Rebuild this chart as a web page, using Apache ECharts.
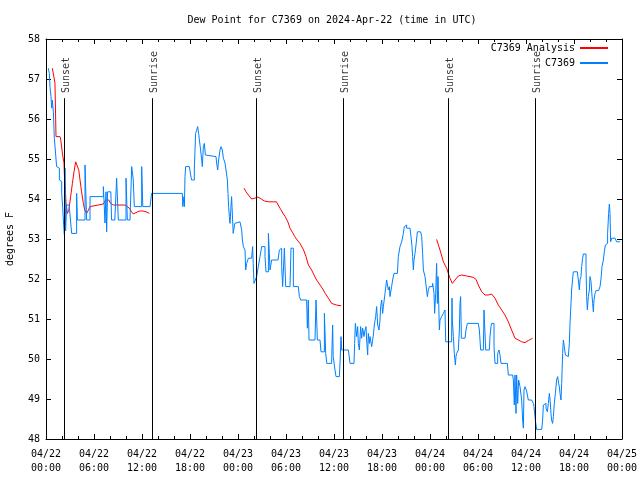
<!DOCTYPE html>
<html><head><meta charset="utf-8">
<script src="https://cdn.jsdelivr.net/npm/echarts@6/dist/echarts.min.js"></script>
<style>html,body{margin:0;padding:0;background:#fff}#c{width:640px;height:480px}</style>
</head><body><div id="c"></div>
<script>
// hours since 2024-04-22 00:00 UTC, dew point (F)
const stationName = 'C7369';
const analysisName = 'C7369 Analysis';
const xTickLabels = ['04/22\n00:00','04/22\n06:00','04/22\n12:00','04/22\n18:00','04/23\n00:00','04/23\n06:00','04/23\n12:00','04/23\n18:00','04/24\n00:00','04/24\n06:00','04/24\n12:00','04/24\n18:00','04/25\n00:00'];
const sunsetHours = [2.29, 26.29, 50.29];
const sunriseHours = [13.29, 37.17, 61.17];
const sunLabels = ['Sunset','Sunrise'];

const blueObs = [[0.29,57.27],[0.42,57.14],[0.5,56.81],[0.625,56.56],[0.71,56.27],[0.79,56.475],[0.92,56.18],[1.04,55.52],[1.25,55.475],[1.33,54.81],[1.54,54.77],[1.67,54.475],[1.83,54.44],[1.96,54.14],[2.08,53.81],[2.17,53.475],[2.25,53.225],[2.3,53.1],[2.375,54.77],[2.45,53.2],[2.58,53.85],[2.9,53.85],[3.0,53.6],[3.21,53.14],[3.5,53.14],[3.83,54.14],[3.92,53.475],[4.04,53.475],[4.5,53.475],[4.875,54.85],[5.08,53.475],[5.3,53.475],[5.5,54.06],[6.0,54.06],[6.5,54.06],[7.17,54.31],[7.375,53.4],[7.5,54.18],[7.58,53.18],[7.7,54.18],[7.79,54.18],[8.1,54.18],[8.2,53.475],[8.6,53.475],[8.83,54.52],[9.04,53.475],[9.5,53.475],[10.0,54.52],[10.17,53.475],[10.5,53.475],[10.71,54.81],[10.9,54.5],[11.04,53.81],[11.5,53.81],[11.96,54.81],[12.1,53.81],[12.5,53.81],[13.0,53.81],[13.2,54.14],[14,54.14],[15,54.14],[16,54.14],[17.04,54.14],[17.1,53.81],[17.25,54.06],[17.3,53.81],[17.375,54.56],[17.46,54.81],[17.92,54.81],[18.08,54.6],[18.2,54.475],[18.4,54.475],[18.54,54.725],[18.625,55.225],[18.7,55.64],[18.83,55.72],[18.96,55.81],[19.08,55.64],[19.17,55.475],[19.33,55.225],[19.46,54.975],[19.54,54.81],[19.67,55.31],[19.79,55.39],[19.92,55.1],[20.08,55.06],[21.25,55.06],[21.33,54.9],[21.46,54.725],[21.58,54.975],[21.75,55.225],[21.875,55.31],[22.04,55.225],[22.17,55.02],[22.375,54.9],[22.5,54.725],[22.67,54.475],[22.75,54.14],[22.83,53.81],[22.92,53.56],[23.0,53.39],[23.2,54.06],[23.4,53.14],[23.6,53.39],[23.8,53.43],[24.25,53.43],[24.46,53.225],[24.55,52.975],[24.67,52.81],[24.875,52.725],[24.96,52.225],[25.08,52.39],[25.3,52.52],[25.7,52.52],[25.83,52.81],[25.9,52.39],[26.0,51.89],[26.25,51.89],[26.33,52.06],[26.54,52.31],[26.75,52.56],[26.96,52.81],[27.17,52.81],[27.375,52.56],[27.5,52.18],[27.7,52.18],[27.8,53.14],[27.92,52.64],[28.0,52.225],[28.2,52.475],[29.0,52.475],[29.17,52.725],[29.25,52.77],[29.46,52.31],[29.58,51.81],[29.8,52.77],[29.96,51.81],[30.5,51.81],[30.625,52.77],[30.83,52.77],[30.92,51.81],[31.54,51.81],[31.67,51.56],[31.83,51.475],[32.58,51.475],[32.67,50.77],[32.79,51.475],[32.875,50.475],[33.625,50.475],[33.75,51.475],[33.92,50.475],[34.25,50.475],[34.375,50.18],[34.8,51.14],[34.96,50.14],[35.1,49.89],[35.7,49.89],[35.83,50.85],[35.9,50.06],[36.125,49.725],[36.25,49.56],[36.67,49.56],[36.75,49.89],[36.875,50.56],[36.96,50.225],[37.8,50.225],[38.0,49.89],[38.5,49.89],[38.58,50.39],[38.67,50.89],[38.83,50.56],[38.96,50.81],[39.04,50.39],[39.17,50.225],[39.33,50.81],[39.46,50.52],[39.58,50.77],[39.75,50.56],[39.875,50.725],[40.0,50.81],[40.08,50.475],[40.21,50.1],[40.29,50.64],[40.42,50.39],[40.5,50.56],[40.71,50.31],[40.92,50.6],[41.04,50.85],[41.21,51.06],[41.33,51.31],[41.46,50.85],[41.625,50.725],[41.75,50.975],[41.83,51.31],[41.96,51.475],[42.08,51.14],[42.17,51.31],[42.375,51.64],[42.58,51.975],[42.79,51.725],[42.92,51.81],[43.0,51.56],[43.2,51.81],[43.33,51.975],[43.5,52.14],[43.92,52.18],[44.04,52.56],[44.25,52.81],[44.46,52.93],[44.67,53.14],[44.79,53.31],[44.96,53.35],[45.08,53.27],[45.5,53.225],[45.625,53.06],[45.75,52.81],[45.83,52.56],[45.92,52.225],[46.0,52.475],[46.125,52.64],[46.25,52.85],[46.42,53.18],[46.83,53.18],[46.96,53.06],[47.08,52.64],[47.17,52.225],[47.375,52.06],[47.5,51.85],[47.67,51.56],[47.79,51.725],[47.92,51.81],[48.33,51.89],[48.5,51.64],[48.58,51.14],[48.71,51.64],[48.83,52.39],[48.92,51.39],[49.0,52.06],[49.08,51.475],[49.17,50.725],[49.25,50.975],[49.46,51.06],[49.67,51.14],[49.875,51.225],[49.96,50.43],[50.7,50.43],[50.75,51.52],[50.79,50.975],[50.92,50.56],[51.04,50.14],[51.17,49.85],[51.25,50.06],[51.33,50.14],[51.54,50.225],[51.67,50.725],[51.75,51.39],[51.83,51.56],[51.92,50.52],[52.375,50.52],[52.5,50.725],[52.67,50.89],[54.04,50.89],[54.17,50.725],[54.33,50.225],[54.67,50.225],[54.75,51.225],[54.875,51.225],[54.96,50.225],[55.42,50.225],[55.5,50.56],[55.625,50.81],[55.7,50.89],[55.9,50.89],[56.0,50.31],[56.125,49.89],[56.33,49.89],[56.46,50.14],[56.625,50.225],[56.75,50.1],[56.875,49.89],[57.67,49.89],[57.79,49.6],[58.33,49.6],[58.42,49.475],[58.54,48.85],[58.625,49.6],[58.75,48.64],[58.83,49.6],[58.96,48.89],[59.08,49.475],[59.25,49.31],[59.46,48.975],[59.58,48.475],[59.67,48.27],[59.75,49.225],[59.875,49.31],[60.08,49.2],[60.29,48.975],[60.7,48.96],[60.92,48.89],[61.0,48.81],[61.08,48.64],[61.17,48.475],[61.25,48.35],[61.33,48.24],[61.96,48.24],[62.08,48.475],[62.17,48.85],[62.375,48.89],[62.5,48.77],[62.67,48.68],[62.79,48.89],[62.92,49.14],[63.0,49.0],[63.125,48.64],[63.2,48.475],[63.33,48.39],[63.42,48.56],[63.54,48.89],[63.67,49.14],[63.83,49.475],[63.96,49.56],[64.08,49.39],[64.17,49.31],[64.25,49.14],[64.375,48.975],[64.46,49.39],[64.58,50.14],[64.67,50.475],[64.79,50.31],[64.92,50.1],[65.08,50.06],[65.29,50.1],[65.42,50.39],[65.5,50.89],[65.625,51.39],[65.7,51.725],[65.83,52.0],[65.92,52.18],[66.42,52.18],[66.54,51.975],[66.67,51.725],[66.75,51.975],[66.875,52.06],[66.96,52.31],[67.08,52.52],[67.17,52.625],[67.375,52.625],[67.5,52.31],[67.58,51.56],[67.67,51.225],[67.79,51.56],[67.92,51.725],[68.0,52.06],[68.125,51.935],[68.2,51.725],[68.33,51.39],[68.42,51.18],[68.5,51.475],[68.625,51.64],[68.75,51.71],[69.08,51.71],[69.25,51.81],[69.375,52.0],[69.5,52.31],[69.67,52.475],[69.79,52.68],[69.92,52.85],[70.08,52.89],[70.2,53.14],[70.33,53.64],[70.42,53.875],[70.5,53.64],[70.58,52.93],[70.7,53.02],[70.9,53.02],[71.125,53.0],[71.33,52.93],[71.75,52.93]];

const redDay1 = [[0.79,57.27],[1.04,57.27],[1.12,56.9],[1.25,55.56],[1.75,55.56],[1.83,55.5],[2.08,55.1],[2.25,54.9],[2.29,54.64],[2.4,54.31],[2.5,53.9],[2.67,53.64],[2.85,53.72],[3.08,54.06],[3.3,54.39],[3.5,54.68],[3.71,54.93],[3.96,54.93],[4.1,54.72],[4.25,54.475],[4.45,54.18],[4.67,53.89],[4.85,53.72],[5.08,53.64],[5.3,53.72],[5.5,53.81],[5.71,53.85],[7.17,53.875],[7.45,53.975],[7.67,54.0],[7.85,53.975],[8.08,53.89],[8.4,53.85],[9.875,53.85],[10.15,53.81],[10.42,53.77],[10.7,53.68],[10.92,53.625],[11.25,53.66],[11.67,53.7],[12.1,53.7],[12.5,53.68],[12.92,53.64]];
const redDay2 = [[24.75,54.27],[25.0,54.18],[25.3,54.1],[25.7,54.0],[26.1,54.02],[26.5,54.05],[26.9,54.0],[27.3,53.95],[27.8,53.93],[28.4,53.93],[28.8,53.93],[29.25,53.77],[29.6,53.65],[29.9,53.56],[30.25,53.42],[30.5,53.27],[30.8,53.17],[31.1,53.06],[31.5,52.95],[31.75,52.89],[32.2,52.725],[32.5,52.56],[32.8,52.35],[33.2,52.225],[33.75,52.0],[34.25,51.85],[34.6,51.75],[34.9,51.64],[35.3,51.52],[35.7,51.39],[36.3,51.35],[36.9,51.33]];
const redDay3 = [[48.83,52.99],[49.25,52.725],[49.67,52.43],[50.08,52.27],[50.29,52.14],[50.5,52.02],[50.79,51.89],[51.125,51.975],[51.54,52.075],[51.96,52.1],[52.58,52.075],[53.0,52.06],[53.42,52.04],[53.75,51.99],[54.04,51.85],[54.46,51.68],[54.875,51.6],[55.29,51.6],[55.7,51.625],[56.125,51.52],[56.54,51.35],[56.96,51.225],[57.375,51.1],[57.79,50.93],[58.2,50.725],[58.625,50.52],[59.04,50.475],[59.46,50.43],[59.875,50.41],[60.29,50.46],[60.83,50.52]];

const FONT = 'DejaVu Sans Mono';
const RED = '#ff0000', BLUE = '#0080ff';
const yMin = 48, yMax = 58, xMin = 0, xMax = 72;
const sunLineTop = 56.52, sunLabelY = 56.65;

const sunPoints = sunsetHours.map(h => ({value:[h, sunLabelY], label:{formatter: sunLabels[0]}}))
  .concat(sunriseHours.map(h => ({value:[h, sunLabelY], label:{formatter: sunLabels[1]}})));
const sunLines = sunsetHours.concat(sunriseHours).map(h => [{coord:[h, yMin]}, {coord:[h, sunLineTop]}]);

const baseX = {
  type:'value', min:xMin, max:xMax, interval:6,
  axisLine:{show:true, onZero:false, lineStyle:{color:'#000', width:1}},
  axisTick:{show:true, inside:true, length:5, lineStyle:{color:'#000'}},
  minorTick:{show:true, splitNumber:3, length:3, lineStyle:{color:'#000'}},
  splitLine:{show:false}, minorSplitLine:{show:false}
};
const baseY = {
  type:'value', min:yMin, max:yMax, interval:1,
  axisLine:{show:true, onZero:false, lineStyle:{color:'#000', width:1}},
  axisTick:{show:true, inside:true, length:5, lineStyle:{color:'#000'}},
  splitLine:{show:false}
};

const chart = echarts.init(document.getElementById('c'), null, {renderer:'canvas'});
chart.setOption({
  animation:false,
  backgroundColor:'#fff',
  textStyle:{fontFamily:FONT},
  title:{text:'Dew Point for ' + stationName + ' on 2024-Apr-22 (time in UTC)', left:327, top:10, textAlign:'center',
    textStyle:{fontFamily:FONT, fontSize:10, fontWeight:'normal', color:'#000'}},
  grid:{left:46, top:39, width:576, height:400, containLabel:false, outerBoundsMode:'none'},
  legend:{data:[analysisName, stationName], orient:'vertical', align:'right', right:27, top:38, itemGap:5,
    itemWidth:28, itemHeight:2, icon:'rect', textStyle:{fontFamily:FONT, fontSize:10, color:'#000'}},
  xAxis:[
    Object.assign({}, baseX, {position:'bottom', axisLabel:{show:true, margin:8, color:'#000', fontFamily:FONT, fontSize:10, lineHeight:14,
      formatter:v => xTickLabels[Math.round(v/6)]}}),
    Object.assign({}, baseX, {position:'top', axisLabel:{show:false}})
  ],
  yAxis:[
    Object.assign({}, baseY, {position:'left', name:'degrees F', nameLocation:'middle', nameGap:31, nameRotate:90,
      nameTextStyle:{fontFamily:FONT, fontSize:10, color:'#000'},
      axisLabel:{show:true, margin:6, color:'#000', fontFamily:FONT, fontSize:10}}),
    Object.assign({}, baseY, {position:'right', axisLabel:{show:false}})
  ],
  series:[
    {name:analysisName, type:'line', data:redDay1, showSymbol:false, lineStyle:{color:RED, width:1}, itemStyle:{color:RED}},
    {name:analysisName, type:'line', data:redDay2, showSymbol:false, lineStyle:{color:RED, width:1}, itemStyle:{color:RED}},
    {name:analysisName, type:'line', data:redDay3, showSymbol:false, lineStyle:{color:RED, width:1}, itemStyle:{color:RED}},
    {name:stationName, type:'line', data:blueObs, step:'end', showSymbol:false, lineStyle:{color:BLUE, width:1}, itemStyle:{color:BLUE}},
    {name:'sun', type:'scatter', data:sunPoints, symbolSize:0, silent:true,
      label:{show:true, position:'inside', rotate:90, align:'left', verticalAlign:'middle', offset:[0,2],
        fontFamily:FONT, fontSize:10, color:'#000'},
      markLine:{silent:true, symbol:'none', label:{show:false}, lineStyle:{color:'#000', width:1, type:'solid'}, data:sunLines}}
  ]
});
</script></body></html>
